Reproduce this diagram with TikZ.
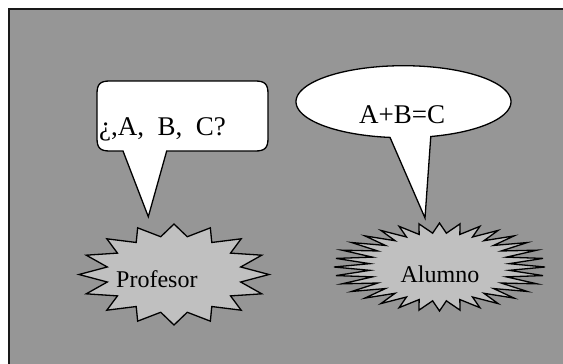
\documentclass[tikz,border=0pt]{standalone}
\usepackage{fontspec}
\setmainfont{Liberation Serif}
\definecolor{bggray}{HTML}{969696}
\definecolor{stargray}{HTML}{C0C0C0}
\begin{document}
\begin{tikzpicture}[x=1pt,y=-1pt,
  outline/.style={draw=black,line width=1.3pt,line join=miter},
  bubble/.style={outline,fill=white},
  burst/.style={outline,fill=stargray},
  bigtext/.style={inner sep=0pt,font=\fontsize{27}{30}\selectfont},
  startext/.style={inner sep=0pt,font=\fontsize{24}{28}\selectfont}]
\useasboundingbox (0,0) rectangle (563,364);
% background frame
\draw[fill=bggray,draw=black!90,line width=2.2pt] (9,9) rectangle (620,420);

% rounded speech bubble (Profesor)
\coordinate (ptip) at (148.3,216.7);
\draw[bubble] (123,151) -- (ptip) -- (166.7,151) -- (255,151)
  .. controls (265,151) and (268,148) .. (268,138) -- (268,94)
  .. controls (268,84) and (265,81) .. (255,81) -- (110,81)
  .. controls (100,81) and (97,84) .. (97,94) -- (97,138)
  .. controls (97,148) and (100,151) .. (110,151) -- cycle;
\node[bigtext,anchor=base west] (q) at (99,135) {¿,A,\ \ B,\ \ C?};

% oval speech bubble (Alumno)
\coordinate (atip) at (425,218);
\draw[bubble] (atip) -- plot[domain=75.3:-262.8,samples=120,smooth,variable=\t]
  ({403.5+107.5*cos(\t)},{101.7+36*sin(\t)}) -- cycle;
\node[bigtext,anchor=base west] (ans) at (359,123.3) {A+B=C};

% Profesor starburst
\draw[burst] ({174+95*cos(90)},{274.5-50.5*sin(90)})
  \foreach \k in {0,...,15}{
    -- ({174+68*cos(90+\k*22.5+11.25)},{274.5-38.5*sin(90+\k*22.5+11.25)})
    -- ({174+95*cos(90+(\k+1)*22.5)},{274.5-50.5*sin(90+(\k+1)*22.5)})
  } -- cycle;
\node[startext,anchor=base west] (prof) at (116,287) {Profesor};

% Alumno starburst
\draw[burst] ({439.5+105.5*cos(90)},{267-44*sin(90)})
  \foreach \k in {0,...,31}{
    -- ({439.5+70*cos(90+\k*11.25+5.625)},{267-34*sin(90+\k*11.25+5.625)})
    -- ({439.5+105.5*cos(90+(\k+1)*11.25)},{267-44*sin(90+(\k+1)*11.25)})
  } -- cycle;
\node[startext,anchor=base] (alum) at (440,282) {Alumno};
\end{tikzpicture}
\end{document}
